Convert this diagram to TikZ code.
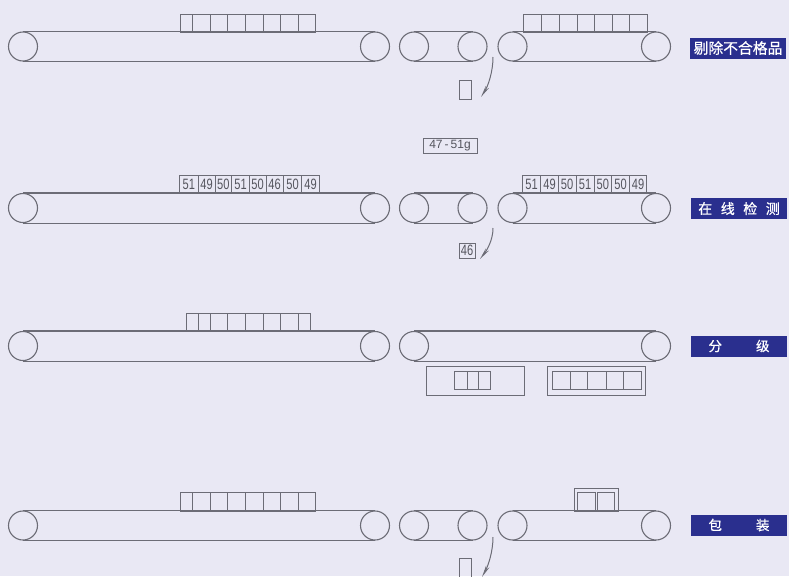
\documentclass[tikz,border=0pt]{standalone}
\usepackage{fontspec}
\setmainfont{Liberation Sans}
\newfontfamily\cjk[FakeBold=0.6]{Noto Sans CJK SC}
\newfontfamily\narrowfont[FakeStretch=0.74]{Liberation Sans}
\usetikzlibrary{arrows.meta}
\definecolor{bgc}{HTML}{E9E8F4}
\definecolor{linec}{HTML}{6C6C76}
\definecolor{textc}{HTML}{55555E}
\definecolor{tagblue}{HTML}{2A2F8E}
\newcommand\cellrow[4]{%
  \foreach \a/\b/\t [count=\i] in {#4} {
    \node[cell, minimum width={\b-\a}, minimum height={#3-#2}] (#1\i) at ({(\a+\b)/2},{(#2+#3)/2}) {\t};
  }}
\begin{document}
\begin{tikzpicture}[x=1pt,y=-1pt,
  roller/.style={circle, draw=linec, line width=1.1pt, minimum size=29pt, inner sep=0pt},
  belt/.style={draw=linec, line width=1.1pt},
  cell/.style={rectangle, draw=linec, line width=1pt, inner sep=0pt, font=\narrowfont\fontsize{15}{15}\selectfont, text=textc},
  frame/.style={rectangle, draw=linec, line width=1pt, inner sep=0pt},
  tag/.style={rectangle, fill=tagblue, text=white, inner sep=0pt, minimum width=96pt, minimum height=21pt},
  drop/.style={draw=linec, line width=1pt, -{Stealth[length=12pt,width=3.8pt]}}]
\useasboundingbox[fill=bgc] (0,0) rectangle (789,576);

% ---------- row 1 ----------
\node[roller] (r1a) at (23,46.5) {};
\node[roller] (r1b) at (375,46.5) {};
\node[roller] (r1c) at (414,46.5) {};
\node[roller] (r1d) at (472.5,46.5) {};
\node[roller] (r1e) at (512.5,46.5) {};
\node[roller] (r1f) at (656,46.5) {};
\draw[belt] (r1a.north) -- (r1b.north) (r1a.south) -- (r1b.south);
\draw[belt] (r1c.north) -- (r1d.north) (r1c.south) -- (r1d.south);
\draw[belt] (r1e.north) -- (r1f.north) (r1e.south) -- (r1f.south);
\cellrow{pa}{14}{32}{180/192/,192/210/,210/227/,227/245/,245/263/,263/280/,280/298/,298/315/}
\cellrow{pb}{14}{32}{523/541/,541/559/,559/577/,577/594/,594/612/,612/629/,629/647/}
\coordinate (d1s) at (493,57);
\coordinate (d1e) at (481,97);
\draw[drop] (d1s) .. controls (493,72) and (488,86) .. (d1e);
\node[frame, minimum width=12pt, minimum height=19pt] (rej1) at (465,89.5) {};
\node[tag, font=\cjk\fontsize{14.8}{14.8}\selectfont] (t1) at (738,48) {剔除不合格品};

% ---------- row 2 ----------
\node[roller] (r2a) at (23,208) {};
\node[roller] (r2b) at (375,208) {};
\node[roller] (r2c) at (414,208) {};
\node[roller] (r2d) at (472.5,208) {};
\node[roller] (r2e) at (512.5,208) {};
\node[roller] (r2f) at (656,208) {};
\draw[belt] (r2a.north) -- (r2b.north) (r2a.south) -- (r2b.south);
\draw[belt] (r2c.north) -- (r2d.north) (r2c.south) -- (r2d.south);
\draw[belt] (r2e.north) -- (r2f.north) (r2e.south) -- (r2f.south);
\cellrow{qa}{175.5}{193.5}{179.3/198.3/51,198.3/215/49,215/231.7/50,231.7/249.3/51,249.3/266/50,266/283.3/46,283.3/301.7/50,301.7/319.3/49}
\cellrow{qb}{175.5}{193.5}{522.3/540.7/51,540.7/558.3/49,558.3/576/50,576/594/51,594/611.7/50,611.7/629.3/50,629.3/646.7/49}
\node[frame, minimum width=54pt, minimum height=15pt, font=\fontsize{12}{12}\selectfont, text=textc] (range) at (450,145.5) {47\,-\,51g};
\coordinate (d2s) at (493,228);
\coordinate (d2e) at (480,259);
\draw[drop] (d2s) .. controls (493,240) and (487,250) .. (d2e);
\node[frame, minimum width=16pt, minimum height=15pt, font=\narrowfont\fontsize{15}{15}\selectfont, text=textc] (rej2) at (467,250.5) {46};
\node[tag, font=\cjk\fontsize{14}{14}\selectfont] (t2) at (739,208.5) {在\hspace{8.5pt}线\hspace{8.5pt}检\hspace{8.5pt}测};

% ---------- row 3 ----------
\node[roller] (r3a) at (23,346) {};
\node[roller] (r3b) at (375,346) {};
\node[roller] (r3c) at (414,346) {};
\node[roller] (r3d) at (656,346) {};
\draw[belt] (r3a.north) -- (r3b.north) (r3a.south) -- (r3b.south);
\draw[belt] (r3c.north) -- (r3d.north) (r3c.south) -- (r3d.south);
\cellrow{sa}{313}{331}{186/198/,198/210/,210/227/,227/245/,245/263/,263/280/,280/298/,298/310/}
\node[frame, minimum width=98pt, minimum height=29pt] (binA) at (475,380.5) {};
\node[frame, minimum width=98pt, minimum height=29pt] (binB) at (596,380.5) {};
\cellrow{ba}{371}{389}{454/467/,467/478/,478/490/}
\cellrow{bb}{371}{389}{552/570/,570/587/,587/606/,606/623/,623/641/}
\node[tag, font=\cjk\fontsize{13.5}{13.5}\selectfont] (t3) at (739,346) {分\hspace{34pt}级};

% ---------- row 4 ----------
\node[roller] (r4a) at (23,525.5) {};
\node[roller] (r4b) at (375,525.5) {};
\node[roller] (r4c) at (414,525.5) {};
\node[roller] (r4d) at (472.5,525.5) {};
\node[roller] (r4e) at (512.5,525.5) {};
\node[roller] (r4f) at (656,525.5) {};
\draw[belt] (r4a.north) -- (r4b.north) (r4a.south) -- (r4b.south);
\draw[belt] (r4c.north) -- (r4d.north) (r4c.south) -- (r4d.south);
\draw[belt] (r4e.north) -- (r4f.north) (r4e.south) -- (r4f.south);
\cellrow{ua}{492}{511}{180/192/,192/210/,210/227/,227/245/,245/263/,263/280/,280/298/,298/315/}
\node[frame, minimum width=44pt, minimum height=23pt] (pack) at (596,499.5) {};
\cellrow{ub}{492}{511}{577/595/,597/614/}
\coordinate (d4s) at (493,537);
\coordinate (d4e) at (482,577);
\draw[drop] (d4s) .. controls (493,552) and (488,566) .. (d4e);
\node[frame, minimum width=12pt, minimum height=20pt] (rej4) at (465,568) {};
\node[tag, font=\cjk\fontsize{13.5}{13.5}\selectfont] (t4) at (739,525) {包\hspace{34pt}装};
\end{tikzpicture}
\end{document}
